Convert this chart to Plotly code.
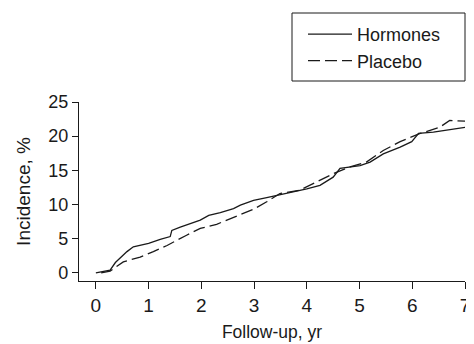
import plotly.graph_objects as go

# Follow-up time (yr) and cumulative incidence (%)
hormones_t = [0.0, 0.27, 0.37, 0.59, 0.71, 1.0, 1.22, 1.41, 1.44, 1.6, 1.98, 2.14, 2.36, 2.61, 2.74, 2.99,
              3.24, 3.49, 3.68, 4.0, 4.25, 4.5, 4.63, 5.01, 5.2, 5.45, 5.77, 5.99, 6.12, 6.4, 7.0]
hormones_y = [0.0, 0.4, 1.5, 3.1, 3.8, 4.3, 4.9, 5.3, 6.2, 6.7, 7.7, 8.4, 8.8, 9.4, 9.9, 10.6,
              11.0, 11.4, 11.7, 12.3, 12.8, 14.0, 15.3, 15.7, 16.2, 17.4, 18.4, 19.2, 20.4, 20.6, 21.3]

placebo_t = [0.1, 0.27, 0.52, 0.84, 1.09, 1.35, 1.72, 1.98, 2.29, 2.61, 2.99, 3.24, 3.49, 3.87, 4.19,
             4.5, 4.82, 5.13, 5.45, 5.77, 6.15, 6.52, 6.71, 7.0]
placebo_y = [0.0, 0.25, 1.6, 2.3, 3.1, 4.0, 5.5, 6.5, 7.1, 8.1, 9.3, 10.4, 11.6, 12.1, 13.3,
             14.5, 15.5, 16.2, 17.9, 19.2, 20.4, 21.3, 22.3, 22.2]

x_ticks = [0, 1, 2, 3, 4, 5, 6, 7]
y_ticks = [0, 5, 10, 15, 20, 25]

FONT = "Liberation Sans, Arial, sans-serif"
INK = "#1a1a1a"

# the page body has an 8px margin, so the figure is drawn from (8, 8)
OFF = 8
W, H = 474 - OFF, 344 - OFF
ML, MR, MT, MB = 79 - OFF, 9, 102 - OFF, 63
PW, PH = W - ML - MR, H - MT - MB


def px(x):
    # x in window pixels -> paper
    return (x - OFF - ML) / PW


def py(y):
    # y in window pixels -> paper
    return (H - MB - (y - OFF)) / PH


fig = go.Figure()
fig.add_trace(go.Scatter(x=hormones_t, y=hormones_y, mode="lines", name="Hormones",
                         line=dict(color=INK, width=1.3)))
fig.add_trace(go.Scatter(x=placebo_t, y=placebo_y, mode="lines", name="Placebo",
                         line=dict(color=INK, width=1.3, dash="12px,5px")))

fig.add_shape(type="rect", xref="paper", yref="paper",
              x0=px(292), x1=px(465), y0=py(81), y1=py(13),
              line=dict(color=INK, width=1), fillcolor="rgba(0,0,0,0)")

fig.update_layout(
    width=W, height=H,
    margin=dict(l=ML, r=MR, t=MT, b=MB, autoexpand=False),
    paper_bgcolor="white", plot_bgcolor="white",
    font=dict(family=FONT, size=17, color=INK),
    showlegend=True,
    legend=dict(x=px(303), xanchor="left", y=py(16), yanchor="top",
                borderwidth=0, bgcolor="rgba(0,0,0,0)",
                font=dict(size=18, family=FONT, color=INK),
                itemwidth=44, tracegroupgap=0),
    xaxis=dict(range=[-0.32, 7], tickvals=x_ticks, ticks="outside", ticklen=7, tickwidth=1,
               tickcolor=INK, showline=True, linecolor=INK, linewidth=1.2, showgrid=False,
               zeroline=False, automargin=False, tickfont=dict(size=19),
               title=dict(text="Follow-up, yr", font=dict(size=17.5), standoff=10)),
    yaxis=dict(range=[-1.2, 25], tickvals=y_ticks, ticks="outside", ticklen=6, tickwidth=1,
               tickcolor=INK, showline=True, linecolor=INK, linewidth=1.2, showgrid=False,
               zeroline=False, automargin=False, tickfont=dict(size=18),
               title=dict(text="Incidence, %", font=dict(size=19), standoff=12)),
)

fig.write_html("out.html")
